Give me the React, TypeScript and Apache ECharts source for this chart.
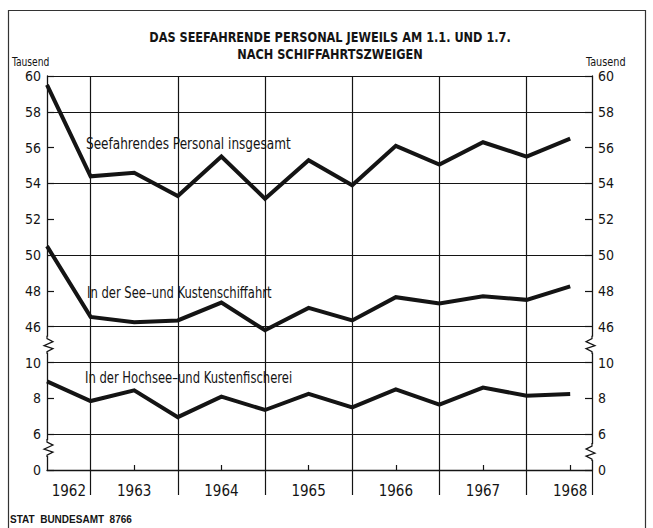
import React, { useEffect, useRef } from "react";
import * as echarts from "echarts";

// Half-year reference dates (1.7. and 1.1.), index 0 = 1.7.1962
const periods = [
  "1.7.1962", "1.1.1963", "1.7.1963", "1.1.1964", "1.7.1964", "1.1.1965", "1.7.1965",
  "1.1.1966", "1.7.1966", "1.1.1967", "1.7.1967", "1.1.1968", "1.7.1968",
];
// Tausend
const totalStaff = [59.5, 54.4, 54.6, 53.3, 55.5, 53.15, 55.3, 53.9, 56.1, 55.05, 56.3, 55.5, 56.5];
const coastalShipping = [50.5, 46.55, 46.25, 46.35, 47.35, 45.8, 47.05, 46.35, 47.65, 47.3, 47.7, 47.5, 48.25];
const fishing = [8.95, 7.85, 8.45, 6.95, 8.1, 7.35, 8.25, 7.5, 8.5, 7.65, 8.6, 8.15, 8.25];

const yearLabels = ["1962", "1963", "1964", "1965", "1966", "1967", "1968"];
const yearLabelPos = [0.5, 2, 4, 6, 8, 10, 12];
const yearBoundaries = [1, 3, 5, 7, 9, 11];
const midYearTicks = [2, 4, 6, 8, 10, 12];
const fullGridValues = [6, 10, 46, 50, 54, 58, 60];

const titleLines = ["DAS SEEFAHRENDE PERSONAL JEWEILS AM 1.1. UND 1.7.", "NACH SCHIFFAHRTSZWEIGEN"];
const seriesNames = [
  "Seefahrendes Personal insgesamt",
  "In der See–und Kustenschiffahrt",
  "In der Hochsee–und Kustenfischerei",
];

const FONT = '"Liberation Sans Narrow", "DejaVu Sans Condensed", "Liberation Sans", sans-serif';
const INK = "#141414";

// broken value axis: 0..6 compressed, 6..10 lower panel, 46..60 upper panel
const toDisplay = (v: number) => (v <= 6 ? v / 3 : v <= 10 ? v - 4 : v - 38);
const fromDisplay = (d: number) => (d <= 2 ? d * 3 : d <= 6 ? d + 4 : d + 38);

export default function App() {
  const ref = useRef<HTMLDivElement>(null);
  useEffect(() => {
    document.body.style.margin = "0";
    if (!ref.current) return;
    const chart = echarts.init(ref.current, undefined, { renderer: "svg" });

    const mkData = (arr: number[]) => arr.map((v, i) => [i, toDisplay(v)]);
    const lineStyle = { color: INK, width: 4, join: "miter" as const, cap: "butt" as const };
    const yAxisBase = (position: "left" | "right") => ({
      type: "value" as const,
      position,
      min: 0,
      max: 22,
      interval: 2,
      axisLine: { show: true, onZero: false, lineStyle: { color: INK, width: 1.3 } },
      axisTick: { show: true, inside: true, length: 7, lineStyle: { color: INK, width: 1.2 } },
      axisLabel: {
        show: true,
        margin: 6,
        color: INK,
        fontSize: 14,
        fontFamily: FONT,
        formatter: (d: number) => String(fromDisplay(d)),
      },
      splitLine: { show: false },
    });

    const option: any = {
      animation: false,
      backgroundColor: "#ffffff",
      grid: { left: 47, right: 61, top: 76, bottom: 58, containLabel: false },
      xAxis: [
        {
          type: "value",
          min: 0,
          max: 12.5,
          position: "bottom",
          axisLine: { show: true, onZero: false, lineStyle: { color: INK, width: 1.3 } },
          axisTick: {
            show: true,
            customValues: [...yearBoundaries, 12.5],
            inside: false,
            length: 25,
            lineStyle: { color: INK, width: 1.2 },
          },
          axisLabel: {
            show: true,
            customValues: yearLabelPos,
            margin: 13,
            color: INK,
            fontSize: 15,
            fontFamily: FONT,
            formatter: (v: number) => {
              const k = yearLabelPos.findIndex((p) => Math.abs(p - v) < 1e-6);
              return k >= 0 ? yearLabels[k] : "";
            },
          },
          splitLine: { show: false },
        },
        {
          type: "value",
          min: 0,
          max: 12.5,
          position: "bottom",
          axisLine: { show: false },
          axisTick: {
            show: true,
            customValues: midYearTicks,
            inside: true,
            length: 5,
            lineStyle: { color: INK, width: 1.2 },
          },
          axisLabel: { show: false },
          splitLine: { show: false },
        },
      ],
      yAxis: [yAxisBase("left"), yAxisBase("right")],
      series: [
        {
          name: seriesNames[0],
          type: "line",
          data: mkData(totalStaff),
          showSymbol: false,
          symbol: "none",
          lineStyle,
          z: 5,
          markLine: {
            silent: true,
            symbol: ["none", "none"],
            label: { show: false },
            lineStyle: { color: INK, width: 1.2, type: "solid" },
            emphasis: { disabled: true },
            animation: false,
            data: [
              ...fullGridValues.map((v) => ({ yAxis: toDisplay(v) })),
              ...yearBoundaries.map((x) => ({ xAxis: x })),
            ],
          },
        },
        { name: seriesNames[1], type: "line", data: mkData(coastalShipping), showSymbol: false, symbol: "none", lineStyle, z: 5 },
        { name: seriesNames[2], type: "line", data: mkData(fishing), showSymbol: false, symbol: "none", lineStyle, z: 5 },
      ],
    };
    chart.setOption(option);

    // decorations: axis break zigzags, labels, frame
    const zig = (x: number, y: number, dir: number) => [
      {
        type: "rect",
        shape: { x: x - 2, y: y - 8, width: 4, height: 16 },
        style: { fill: "#ffffff" },
        z: 20,
      },
      {
        type: "polyline",
        shape: {
          points: [
            [x, y - 9],
            [x, y - 6],
            [x + 6 * dir, y - 3],
            [x - 3 * dir, y + 1],
            [x + 6 * dir, y + 4],
            [x, y + 7],
            [x, y + 9],
          ],
        },
        style: { stroke: INK, lineWidth: 1.2, fill: "none" },
        z: 21,
      },
    ];
    const pLeftUp = chart.convertToPixel({ xAxisIndex: 0, yAxisIndex: 0 }, [0, 7]) as number[];
    const pLeftLow = chart.convertToPixel({ xAxisIndex: 0, yAxisIndex: 0 }, [0, 1]) as number[];
    const pRightUp = chart.convertToPixel({ xAxisIndex: 0, yAxisIndex: 0 }, [12.5, 7]) as number[];
    const pRightLow = chart.convertToPixel({ xAxisIndex: 0, yAxisIndex: 0 }, [12.5, 1]) as number[];

    const txt = (text: string, x: number, y: number, size: number, extra: any = {}, scaleX = 1) => ({
      type: "text",
      x,
      y,
      scaleX,
      z: 30,
      style: { text, fill: INK, fontSize: size, fontFamily: FONT, verticalAlign: "middle", align: "left", ...extra },
    });

    chart.setOption({
      graphic: [
        {
          type: "rect",
          shape: { x: 8.5, y: 10.5, width: 637, height: 560 },
          style: { fill: "none", stroke: "#333", lineWidth: 1.2 },
          z: 1,
        },
        ...zig(pLeftUp[0], pLeftUp[1], 1),
        ...zig(pLeftLow[0], pLeftLow[1] - 4, 1),
        ...zig(pRightUp[0], pRightUp[1], -1),
        ...zig(pRightLow[0], pRightLow[1], -1),
        txt(titleLines[0], 330, 37, 14, { align: "center", fontWeight: "bold" }, 0.9),
        txt(titleLines[1], 330, 54, 14, { align: "center", fontWeight: "bold" }, 0.9),
        txt("Tausend", 12, 62, 12, {}, 0.85),
        txt("Tausend", 586, 62, 12, {}, 0.9),
        txt(seriesNames[0], 86, 143, 16, {}, 0.84),
        txt(seriesNames[1], 87, 293, 15, {}, 0.86),
        txt(seriesNames[2], 85, 378, 15, {}, 0.86),
        txt("STAT  BUNDESAMT  8766", 10, 519, 10, { fontFamily: '"Liberation Sans", sans-serif', fontWeight: "bold" }),
      ],
    });

    return () => chart.dispose();
  }, []);
  return <div ref={ref} style={{ width: 653, height: 528 }} />;
}
